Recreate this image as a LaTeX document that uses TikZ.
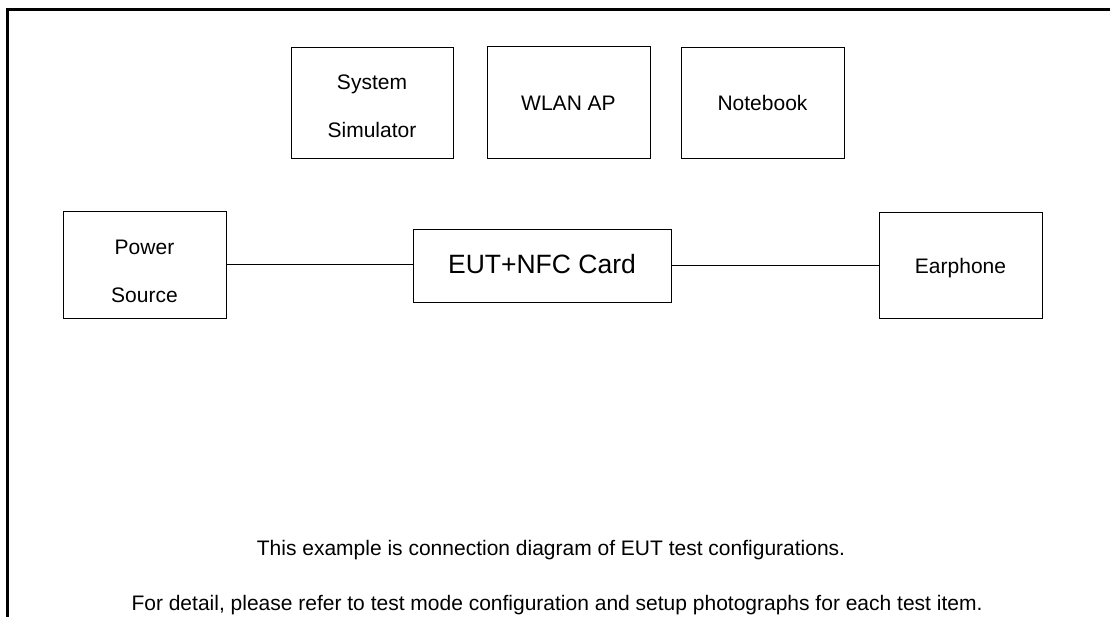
\documentclass[tikz,border=0pt]{standalone}
\usepackage{fontspec}
\setmainfont{Liberation Sans}
\begin{document}
\begin{tikzpicture}[x=1pt,y=-1pt,
  box/.style={draw=black,line width=0.9pt,rectangle,inner sep=0pt,align=center,
    font=\fontsize{21}{48}\selectfont,text depth=0pt},
  wire/.style={draw=black,line width=1.2pt},
  note/.style={font=\fontsize{21}{26}\selectfont,inner sep=0pt,anchor=base}]
\useasboundingbox (0,0) rectangle (1110,617);
\draw[line width=2.5pt] (7.5,617) -- (7.5,9.5) -- (1110,9.5);
\node[box,minimum width=162pt,minimum height=111pt,text height=70pt] (sim) at (372,102.5) {System\\Simulator};
\node[box,minimum width=163pt,minimum height=112pt,text height=17pt] (wlan) at (568.5,102) {WLAN AP};
\node[box,minimum width=163pt,minimum height=111pt,text height=16pt] (nb) at (762.5,102.5) {Notebook};
\node[box,minimum width=163pt,minimum height=107pt,text height=76pt] (ps) at (144.5,264.5) {Power\\Source};
\node[box,minimum width=258pt,minimum height=73pt,text height=17pt,font=\fontsize{26.5}{30}\selectfont] (eut) at (542,265.5) {EUT+NFC Card};
\node[box,minimum width=163pt,minimum height=106pt,text height=17pt] (ear) at (960.5,265) {Earphone};
\draw[wire] (ps.east) -- (eut.west |- ps.east);
\draw[wire] (eut.east) -- (ear.west |- eut.east);
\node[note] (n1) at (551,555) {This example is connection diagram of EUT test configurations.};
\node[note] (n2) at (557,610) {For detail, please refer to test mode configuration and setup photographs for each test item.};
\end{tikzpicture}
\end{document}
